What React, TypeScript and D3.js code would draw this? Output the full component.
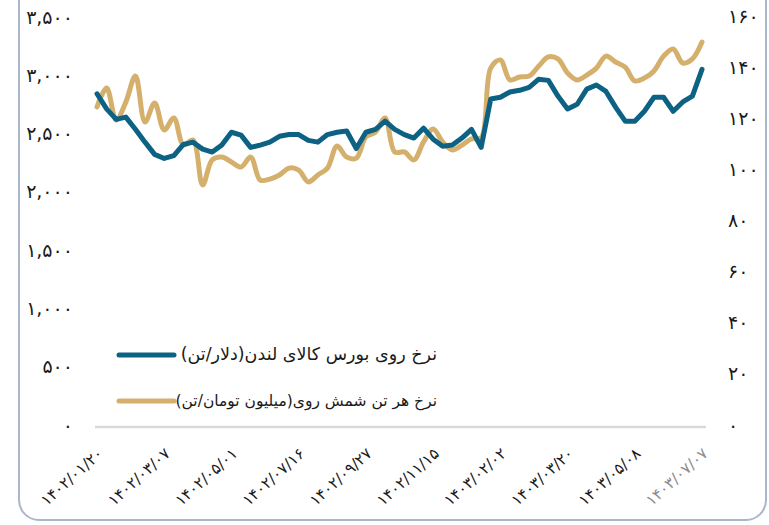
import React from "react";
import * as d3 from "d3";

const xLabels = [
  "۱۴۰۲/۰۱/۲۰", "۱۴۰۲/۰۳/۰۷", "۱۴۰۲/۰۵/۰۱", "۱۴۰۲/۰۷/۱۶", "۱۴۰۲/۰۹/۲۷",
  "۱۴۰۲/۱۱/۱۵", "۱۴۰۳/۰۲/۰۲", "۱۴۰۳/۰۳/۲۰", "۱۴۰۳/۰۵/۰۸", "۱۴۰۳/۰۷/۰۷",
];
const labelEvery = 7;

const londonZinc = [
  2850, 2720, 2630, 2650, 2545, 2435, 2330, 2295, 2320, 2415,
  2435, 2375, 2350, 2410, 2520, 2495, 2390, 2410, 2435, 2485,
  2500, 2500, 2450, 2435, 2500, 2520, 2530, 2380, 2520, 2545,
  2615, 2545, 2500, 2470, 2555, 2460, 2400, 2410, 2470, 2545,
  2390, 2805, 2820, 2865, 2880, 2905, 2975, 2965, 2830, 2720,
  2760, 2890, 2925, 2870, 2735, 2615, 2615, 2700, 2820, 2820,
  2700, 2780, 2830, 3060,
];
const ingotZinc = [
  124.8, 132.2, 119.7, 126.7, 136.9, 118.9, 126.4, 115.8, 120.5, 109.9,
  111.9, 94.3, 104.1, 105.2, 103.3, 101.3, 105.2, 96.2, 96.6, 98.2,
  100.9, 100.1, 95.5, 98.2, 100.9, 109.5, 105.2, 104.8, 113.1, 115.0,
  120.5, 107.2, 107.2, 104.1, 111.1, 116.2, 111.1, 108.0, 109.9, 112.3,
  112.7, 140.0, 143.2, 135.4, 136.5, 136.9, 140.8, 144.4, 143.6, 138.1,
  135.4, 137.3, 140.0, 144.7, 142.4, 140.4, 135.0, 136.1, 138.9, 144.7,
  147.5, 142.0, 143.6, 150.2,
];
const leftTicks = [0, 500, 1000, 1500, 2000, 2500, 3000, 3500];
const rightTicks = [0, 20, 40, 60, 80, 100, 120, 140, 160];
const seriesNames = [
  "نرخ روی بورس کالای لندن(دلار/تن)",
  "نرخ هر تن شمش روی(میلیون تومان/تن)",
];

const BLUE = "#0d6283";
const GOLD = "#d5b06c";
const FONT = "'DejaVu Sans', sans-serif";

const fa = (s: string) => s.replace(/[0-9]/g, (d) => "۰۱۲۳۴۵۶۷۸۹"[+d]);
const fmt = (v: number) => fa(d3.format(",")(v));

export default function App() {
  const W = 769, H = 525;
  const idx = londonZinc.map((_, i) => i);
  const x = d3.scalePoint<number>().domain(idx).range([97, 702]);
  const yL = d3.scaleLinear().domain([0, 3500]).range([426, 18]);
  const yR = d3.scaleLinear().domain([0, 160]).range([426, 17]);

  const blueLine = d3
    .line<number>()
    .x((_, i) => x(i)!)
    .y((d) => yL(d))
    .curve(d3.curveLinear)(londonZinc)!;
  const goldLine = d3
    .line<number>()
    .x((_, i) => x(i)!)
    .y((d) => yR(d))
    .curve(d3.curveCatmullRom.alpha(0.5))(ingotZinc)!;

  return (
    <svg
      width={W}
      height={H}
      style={{ position: "absolute", left: 0, top: 0, background: "#fff" }}
      fontFamily={FONT}
    >
      <rect x={19} y={-30} width={747} height={550} rx={20} fill="#fff" stroke="#aab6c9" strokeWidth={2} />
      <line x1={95} x2={706} y1={yL(0) + 1} y2={yL(0) + 1} stroke="#d9d9d9" strokeWidth={2.5} />

      {leftTicks.map((t) => (
        <text key={"l" + t} x={73} y={yL(t)} textAnchor="end" dominantBaseline="middle" fontSize={19} fontWeight={500} fill="#1a1a1a">
          {fmt(t)}
        </text>
      ))}
      {rightTicks.map((t) => (
        <text key={"r" + t} x={728} y={yR(t)} textAnchor="start" dominantBaseline="middle" fontSize={19} fontWeight={500} fill="#1a1a1a">
          {fmt(t)}
        </text>
      ))}

      {xLabels.map((lab, k) => {
        const px = x(k * labelEvery)!;
        return (
          <text
            key={lab}
            transform={`translate(${px + 7},${455}) rotate(-42)`}
            textAnchor="end"
            fontSize={15.5}
            fill={k === xLabels.length - 1 ? "#8c8c8c" : "#1a1a1a"}
          >
            {lab}
          </text>
        );
      })}

      <path d={goldLine} fill="none" stroke={GOLD} strokeWidth={5} strokeLinejoin="round" strokeLinecap="round" />
      <path d={blueLine} fill="none" stroke={BLUE} strokeWidth={5} strokeLinejoin="round" strokeLinecap="round" />

      {[BLUE, GOLD].map((c, i) => (
        <g key={c}>
          <line x1={119} x2={174} y1={355 + i * 46} y2={355 + i * 46} stroke={c} strokeWidth={5} strokeLinecap="round" />
          <text
            x={437}
            y={355 + i * 46}
            direction="rtl"
            textAnchor="start"
            dominantBaseline="middle"
            fontSize={i === 0 ? 17.5 : 15.5}
            fill="#1a1a1a"
          >
            {seriesNames[i]}
          </text>
        </g>
      ))}
    </svg>
  );
}
